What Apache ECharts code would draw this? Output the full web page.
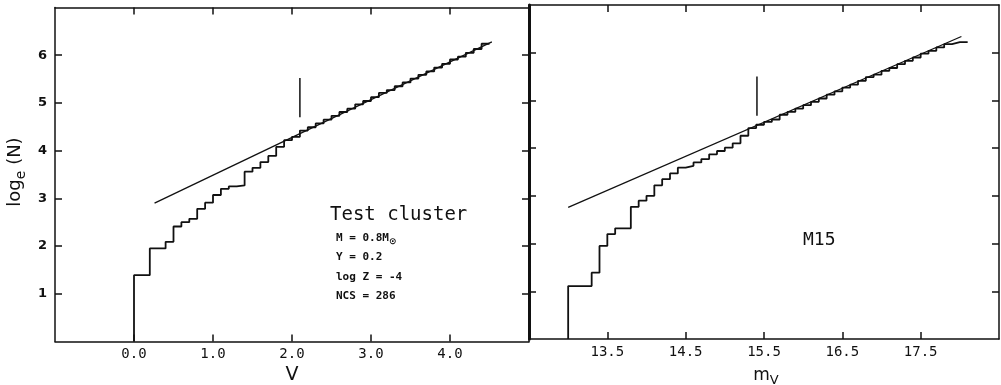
<!DOCTYPE html>
<html>
<head>
<meta charset="utf-8">
<script src="https://cdn.jsdelivr.net/npm/echarts@6/dist/echarts.min.js"></script>
<style>
  html, body { margin: 0; padding: 0; background: #fff; }
  #chart { width: 1001px; height: 385px; }
</style>
</head>
<body>
<div id="chart"></div>
<script>
// left panel: test cluster, bins of V (left edges) and log_e(N)
const leftV = [0.0, 0.2, 0.4, 0.5, 0.6, 0.7, 0.8, 0.9, 1.0, 1.1, 1.2, 1.3, 1.4, 1.5, 1.6, 1.7, 1.8, 1.9, 2.0,
  2.1, 2.2, 2.3, 2.4, 2.5, 2.6, 2.7, 2.8, 2.9, 3.0, 3.1, 3.2, 3.3, 3.4, 3.5, 3.6, 3.7, 3.8, 3.9, 4.0, 4.1, 4.2, 4.3, 4.4];
const leftN = [1.39, 1.95, 2.09, 2.41, 2.50, 2.57, 2.78, 2.91, 3.07, 3.20, 3.25, 3.27, 3.56, 3.64, 3.76, 3.89, 4.08, 4.22, 4.29,
  4.42, 4.49, 4.57, 4.65, 4.73, 4.81, 4.88, 4.97, 5.04, 5.12, 5.21, 5.27, 5.35, 5.43, 5.51, 5.59, 5.66, 5.74, 5.82, 5.91, 5.97, 6.05, 6.13, 6.24];
const leftEnd = 4.5;
const leftFitV = [0.26, 4.53];
const leftFitN = [2.90, 6.28];
const leftMarkV = 2.1;
const leftMarkN = [4.70, 5.52];
const leftTicks = [0, 1, 2, 3, 4];

// right panel: M15, bins of m_V (left edges) and log_e(N)
const rightV = [13.0, 13.1, 13.2, 13.3, 13.4, 13.5, 13.6, 13.7, 13.8, 13.9, 14.0, 14.1, 14.2, 14.3, 14.4, 14.5, 14.6, 14.7,
  14.8, 14.9, 15.0, 15.1, 15.2, 15.3, 15.4, 15.5, 15.6, 15.7, 15.8, 15.9, 16.0, 16.1, 16.2, 16.3, 16.4, 16.5, 16.6, 16.7,
  16.8, 16.9, 17.0, 17.1, 17.2, 17.3, 17.4, 17.5, 17.6, 17.7, 17.8, 17.9, 18.0];
const rightN = [1.11, 1.11, 1.11, 1.39, 1.95, 2.20, 2.32, 2.32, 2.77, 2.90, 3.00, 3.22, 3.35, 3.47, 3.59, 3.63, 3.70, 3.77,
  3.87, 3.94, 4.01, 4.10, 4.26, 4.42, 4.49, 4.55, 4.60, 4.70, 4.76, 4.83, 4.90, 4.97, 5.04, 5.12, 5.19, 5.27, 5.33, 5.41,
  5.49, 5.54, 5.62, 5.68, 5.76, 5.83, 5.90, 5.98, 6.04, 6.11, 6.18, 6.22, 6.22];
const rightEnd = 18.1;
const rightFitV = [13.0, 18.02];
const rightFitN = [2.76, 6.34];
const rightMarkV = 15.41;
const rightMarkN = [4.68, 5.50];
const rightTicks = [13.5, 14.5, 15.5, 16.5, 17.5];

const yTicks = [1, 2, 3, 4, 5, 6];

function stepData(xs, ys, end) {
  const d = [[xs[0], 0]];
  xs.forEach((x, i) => d.push([x, ys[i]]));
  d.push([end, ys[ys.length - 1]]);
  return d;
}

const chart = echarts.init(document.getElementById("chart"), null, { renderer: "canvas" });

const tickStyle = { show: true, inside: true, length: 7, lineStyle: { color: "#111", width: 1.5 } };

function axisLine(width) {
  return { show: true, onZero: false, lineStyle: { color: "#111", width } };
}

function xAxes(gridIndex, min, max, ticks, fmt) {
  return [
    {
      type: "value", gridIndex, min, max, position: "bottom",
      axisLine: axisLine(1.5), splitLine: { show: false },
      axisTick: Object.assign({ customValues: ticks }, tickStyle),
      axisLabel: {
        customValues: ticks, margin: 6, formatter: fmt,
        color: "#111", fontFamily: "DejaVu Sans Mono", fontSize: 14
      }
    },
    {
      type: "value", gridIndex, min, max, position: "top",
      axisLine: axisLine(1.5), splitLine: { show: false },
      axisTick: Object.assign({ customValues: ticks }, tickStyle),
      axisLabel: { show: false }
    }
  ];
}

function yAxes(gridIndex, showLabels, leftWidth) {
  return [
    {
      type: "value", gridIndex, min: 0, max: 7, position: "left",
      axisLine: axisLine(leftWidth), splitLine: { show: false },
      axisTick: Object.assign({ customValues: yTicks }, tickStyle),
      axisLabel: showLabels
        ? { customValues: yTicks, margin: 8, color: "#111", fontFamily: "DejaVu Sans", fontWeight: "bold", fontSize: 13 }
        : { show: false }
    },
    {
      type: "value", gridIndex, min: 0, max: 7, position: "right",
      axisLine: axisLine(1.5), splitLine: { show: false },
      axisTick: Object.assign({ customValues: yTicks }, tickStyle),
      axisLabel: { show: false }
    }
  ];
}

function panelSeries(xi, yi, xs, ys, end, fitV, fitN, markV, markN) {
  return [
    {
      type: "line", xAxisIndex: xi, yAxisIndex: yi, step: "end", symbol: "none", silent: true,
      lineStyle: { color: "#111", width: 1.8 },
      data: stepData(xs, ys, end)
    },
    {
      type: "line", xAxisIndex: xi, yAxisIndex: yi, symbol: "none", silent: true,
      lineStyle: { color: "#111", width: 1.3 },
      data: fitV.map((v, i) => [v, fitN[i]])
    },
    {
      type: "line", xAxisIndex: xi, yAxisIndex: yi, symbol: "none", silent: true,
      lineStyle: { color: "#111", width: 1.5 },
      data: markN.map(n => [markV, n])
    }
  ];
}

const option = {
  backgroundColor: "#fff",
  animation: false,
  grid: [
    { left: 55, top: 7.5, width: 474, height: 334 },
    { left: 529, top: 5, width: 470, height: 334 }
  ],
  xAxis: [
    ...xAxes(0, -1, 5, leftTicks, v => v.toFixed(1)),
    ...xAxes(1, 12.5, 18.5, rightTicks, v => v.toFixed(1))
  ],
  yAxis: [
    ...yAxes(0, true, 1.5),
    ...yAxes(1, false, 3)
  ],
  series: [
    ...panelSeries(0, 0, leftV, leftN, leftEnd, leftFitV, leftFitN, leftMarkV, leftMarkN),
    ...panelSeries(2, 2, rightV, rightN, rightEnd, rightFitV, rightFitN, rightMarkV, rightMarkN)
  ],
  graphic: [
    {
      type: "text", x: 15, y: 172, rotation: Math.PI / 2,
      style: {
        text: "{a|log}{b|e}{a| (N)}", align: "center", verticalAlign: "middle",
        rich: {
          a: { fontFamily: "DejaVu Sans", fontSize: 18, fill: "#111", lineHeight: 26 },
          b: { fontFamily: "DejaVu Sans", fontSize: 14, fill: "#111", verticalAlign: "bottom", lineHeight: 26, padding: [8, 0, 0, 0] }
        }
      }
    },
    {
      type: "text", x: 292, y: 375,
      style: { text: "V", align: "center", verticalAlign: "middle", fontFamily: "DejaVu Sans", fontSize: 19, fill: "#111" }
    },
    {
      type: "text", x: 766, y: 376,
      style: {
        text: "{m|m}{s|V}", align: "center", verticalAlign: "middle",
        rich: {
          m: { fontFamily: "DejaVu Sans", fontSize: 17, fill: "#111", lineHeight: 22 },
          s: { fontFamily: "DejaVu Sans", fontSize: 13, fill: "#111", lineHeight: 22, verticalAlign: "bottom", padding: [8, 0, 0, 0] }
        }
      }
    },
    {
      type: "text", x: 330, y: 215,
      style: { text: "Test cluster", verticalAlign: "middle", fontFamily: "DejaVu Sans Mono", fontSize: 19, fill: "#111" }
    },
    {
      type: "text", x: 336, y: 238,
      style: {
        text: "{n|M = 0.8M}{s|⊙}", verticalAlign: "middle",
        rich: {
          n: { fontFamily: "DejaVu Sans Mono", fontWeight: "bold", fontSize: 11, fill: "#111", lineHeight: 16 },
          s: { fontFamily: "DejaVu Sans", fontWeight: "bold", fontSize: 9, fill: "#111", lineHeight: 16, verticalAlign: "bottom", padding: [6, 0, 0, 0] }
        }
      }
    },
    {
      type: "text", x: 336, y: 257,
      style: { text: "Y = 0.2", verticalAlign: "middle", fontFamily: "DejaVu Sans Mono", fontWeight: "bold", fontSize: 11, fill: "#111" }
    },
    {
      type: "text", x: 336, y: 277,
      style: { text: "log Z = -4", verticalAlign: "middle", fontFamily: "DejaVu Sans Mono", fontWeight: "bold", fontSize: 11, fill: "#111" }
    },
    {
      type: "text", x: 336, y: 296,
      style: { text: "NCS = 286", verticalAlign: "middle", fontFamily: "DejaVu Sans Mono", fontWeight: "bold", fontSize: 11, fill: "#111" }
    },
    {
      type: "text", x: 803, y: 240,
      style: { text: "M15", verticalAlign: "middle", fontFamily: "DejaVu Sans Mono", fontSize: 18, fill: "#111" }
    }
  ]
};

chart.setOption(option);
</script>
</body>
</html>
